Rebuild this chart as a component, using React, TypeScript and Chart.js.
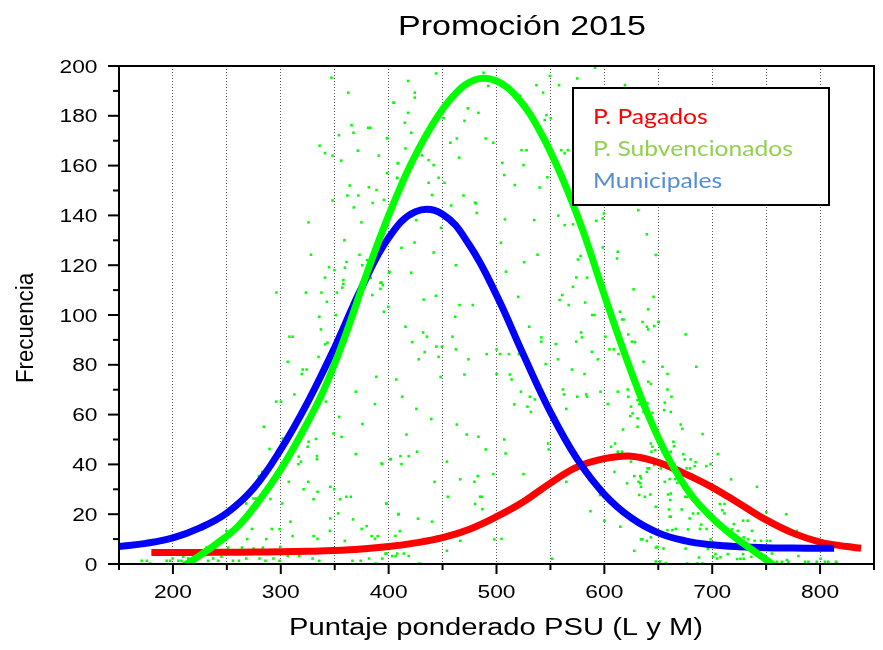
import React, { useEffect, useRef } from "react";
import { Chart, registerables } from "chart.js";

Chart.register(...registerables);

const titleText = "Promoción 2015";
const xAxisTitle = "Puntaje ponderado PSU (L y M)";
const yAxisTitle = "Frecuencia";
const legendNames = ["P. Pagados", "P. Subvencionados", "Municipales"];

const xTickLabels = [200, 300, 400, 500, 600, 700, 800];
const yTickLabels = [0, 20, 40, 60, 80, 100, 120, 140, 160, 180, 200];

// P. Subvencionados (green curve)
const subvX = [200, 220, 240, 260, 280, 300, 320, 340, 360, 380, 400, 420, 440, 460, 480, 500, 520, 540, 560, 580, 600, 620, 640, 660, 680, 700, 720, 740, 760, 770];
const subvY = [-3.5, 2, 8, 15, 25.5, 38, 53, 70, 92, 117, 140, 160, 176, 188, 194.5, 194, 187, 174, 156, 134, 108, 83, 60.5, 42, 28, 18.5, 11, 4.8, -1.5, -5];

// Municipales (blue curve)
const munX = [150, 175, 200, 225, 250, 275, 300, 325, 350, 375, 400, 425, 450, 475, 500, 525, 550, 575, 600, 625, 650, 675, 700, 725, 750, 775, 800, 813];
const munY = [7, 8.3, 10.5, 14.5, 20.5, 30.5, 46, 65, 87, 111, 131, 141.5, 140.5, 128, 108, 84, 61, 42, 28, 18.5, 12.5, 9.3, 7.7, 6.9, 6.5, 6.4, 6.3, 6.3];

// P. Pagados (red curve)
const pagX = [180, 200, 225, 250, 275, 300, 325, 350, 375, 400, 425, 450, 475, 500, 525, 550, 575, 600, 625, 650, 675, 700, 725, 750, 775, 800, 825, 838];
const pagY = [4.6, 4.6, 4.65, 4.7, 4.8, 4.9, 5.1, 5.4, 6, 7, 8.5, 10.6, 14, 19, 25, 32.5, 39, 42.3, 43.3, 40.8, 36.2, 30.8, 24.3, 17.7, 12.4, 8.8, 7, 6.3];

// raw data points (green dots)
const dots: [number, number][] = [
  [347, 195.3], [362.5, 189.3], [404.6, 185.3], [365.6, 176.2], [381, 175.2], [383, 175.2], [367.4, 173.2], [398.5, 171], [353.9, 172.2], [336, 168],
  [341, 165], [348, 164], [371.4, 166], [356, 162], [390.8, 164], [408.4, 161], [398.5, 157], [407.8, 155], [364, 152], [361.7, 148],
  [371.9, 148], [381.6, 151.3], [388.8, 150.2], [395.6, 146.2], [348, 146], [367.7, 143.2], [385.2, 145], [374.8, 137.2], [325.7, 137.2], [359, 130],
  [328, 124.2], [373, 124.2], [361, 121.3], [375.5, 120], [380, 122], [344.7, 119.2], [359.4, 119], [349.7, 118], [400.8, 117.3], [341, 115],
  [358, 114], [358, 112.5], [383.4, 115], [357, 111], [392.4, 113], [394.5, 112], [392.4, 110.5], [296, 109], [323.3, 109], [337.7, 109],
  [352, 109], [384.8, 108], [488, 197.3], [549.5, 196], [522, 188],
  [443.9, 197], [418, 194], [404.8, 185.2], [424.2, 189.3], [424.2, 187.3], [418, 181.2], [415, 177.2], [421, 173.2], [398.6, 171], [415.6, 166.9],
  [431, 164.1], [408.8, 160.9], [407.9, 155.1], [437, 162.2], [441.7, 160.2], [437, 153.1], [446.3, 155.1], [451.8, 153.1], [440.2, 148.2], [469.4, 148],
  [458, 144], [481, 144.8], [481.7, 141], [425.4, 138.1], [448.5, 135], [424, 129.1], [411.9, 127], [441.7, 125.1], [462.3, 120], [421, 117],
  [400.2, 117], [393.4, 113], [432.5, 106.2], [443.8, 107.7], [464.8, 190], [451, 179], [473.4, 183], [483.2, 181.2], [470.3, 178], [457.1, 169.2],
  [463.2, 170.9], [490, 170.9], [497, 169.2], [465.4, 163.2], [492.4, 192], [505.4, 161.1], [525, 160.2], [523.2, 166.2], [527.8, 166.2], [517, 152.2],
  [540, 151.2], [547.2, 155.3], [507.2, 156.2], [480.1, 145.1], [507.8, 138.4], [534.9, 138.1], [504.1, 129], [538, 124.2], [525.6, 121.2], [508.7, 117.4],
  [520.1, 107.3], [537, 192.3], [543.2, 189.3], [558, 192.3], [574.9, 195], [546.2, 180.3], [544.7, 178.3], [550.3, 179], [560.1, 166.2], [566.2, 166.2],
  [563.2, 164.9], [591.4, 199.4], [619.1, 192.3], [557.3, 139.9], [563.2, 136.1], [570.9, 136.4], [599.5, 140.8], [598.5, 138.8], [592.4, 137.8], [631.4, 142.1],
  [639.4, 132.4], [647.7, 124.1], [612.4, 125.4], [611.7, 122.7], [575.5, 122.3], [578, 123.7], [598.5, 127.1], [584, 115], [574, 115.1], [627.1, 110.3],
  [645.6, 107.3], [561, 108], [570.9, 111.3],
  [342.7, 105.3], [335.7, 99.3], [337.2, 94.2], [351, 100], [308, 91.3], [311, 91.3], [343.3, 88.9], [341.2, 88.2], [306.4, 81.2], [335, 83.2],
  [320.3, 78.1], [324, 78.1], [319.4, 76.3], [312.6, 68.1], [295.7, 65.2], [300.3, 65.2], [341.8, 65.2], [284.3, 55.1], [354.1, 59.1], [348.9, 52.4],
  [356.3, 51.1], [369.5, 69.2], [388.5, 75.2], [407, 74.1], [387.3, 64.2], [375.6, 56.2], [369.5, 44.1], [394.1, 40.1], [401.8, 42.1], [289.5, 46.2],
  [301.8, 50.4], [332.6, 50.2], [325.8, 49.1], [324.9, 47.1], [316.6, 43.1], [318.7, 41.1], [316.3, 40.1], [333.5, 43.3], [333.5, 42.1], [307.4, 33],
  [325.5, 33], [321.2, 30], [334.1, 29], [345.8, 31], [349.5, 30], [330.4, 26], [355, 26], [360.9, 27], [364.9, 27], [398.1, 24.3],
  [408.8, 19.9], [301.2, 24.3], [290.4, 26.1], [279.7, 35.3], [282.8, 37], [274.8, 26.3], [277.2, 26.3], [268, 24.3], [345.8, 18.3], [353.2, 20.3],
  [367, 17.9], [375, 14.1], [379.6, 15.2], [308.9, 17], [311, 11.2], [298.8, 14], [291.7, 14.1], [286.5, 10], [273.2, 14.1], [268.9, 10],
  [261.9, 16.6], [259.4, 15.2], [257.2, 13.3], [249.5, 13.3], [264, 6.6], [251.1, 6.6], [241.9, 9.3], [231.1, 6.6], [274.8, 6.2], [283.4, 6.6],
  [299.4, 6.9], [306.4, 3.2], [317.2, 3.2], [330.4, 11.2], [334.1, 10.1], [345.5, 13.3], [359.3, 9.3], [384.2, 11.2], [387.3, 10.1], [389.8, 11.2],
  [398.1, 4.2], [406.4, 3.2], [171.1, 1.3], [175.8, 1.3], [178.8, 0.2], [194.2, 1.3], [197.3, 1.3], [199.7, 2.2], [205, 1.3], [208, 1.3],
  [214.2, 2.2], [217.3, 1.3], [221.9, 1.6], [209.6, 2.9], [232.6, 1.3], [237.3, 2.2], [241.9, 1.3], [245, 2.9], [255.7, 1.3], [261.2, 1.3],
  [268, 2.2], [280.3, 2.2], [285.8, 1.3], [293.2, 2.2], [298.8, 1.3], [329.5, 2.2], [335.7, 1.3], [366.4, 1.3], [374.1, 1.3], [381.8, 2.2],
  [387.9, 0.2], [394.1, 2.2], [395.6, 101.3], [399.6, 103.3],
  [465.7, 104], [478, 104], [558.5, 106], [566.9, 104], [582.2, 105], [461.7, 99.3], [415.6, 95.3], [431.9, 93], [435.5, 91.3], [421.7, 89.1],
  [444.2, 87.3], [449.4, 87.3], [446.3, 83.2], [433.4, 85.1], [427.9, 82.2], [459.2, 91.3], [462.3, 86.2], [474, 82.2], [490.9, 84.3], [500.1, 86.2],
  [503.2, 84.3], [511.5, 84.3], [520.7, 84.3], [530.3, 95.3], [541.6, 91], [541.6, 89.3], [554.9, 88.3], [557, 82.2], [545.6, 80.3], [569.9, 78.1],
  [581.6, 76.3], [573.9, 89.3], [578.5, 93], [579.2, 91], [588.7, 100], [590.8, 100], [588.4, 85.2], [594, 82.2], [601, 91.3], [604.7, 86.2],
  [616.4, 98.2], [617.9, 98.2], [614.5, 101.3], [622.2, 92.2], [625.6, 89.3], [628.4, 89.1], [608.7, 86.2], [613, 84.3], [635.4, 97.2], [639.4, 95.3],
  [646.2, 95.6], [649.9, 97.2], [636.3, 81.2], [640.7, 73.2], [643.1, 72.3], [653.9, 79.2], [658.5, 70.1], [662.2, 67.2], [596.4, 69.2], [612.4, 69.2],
  [621.6, 70.1], [622.2, 67.2], [603.1, 64.2], [630.8, 65.8], [632.4, 64.2], [624.7, 63.2], [626.2, 60.5], [624, 59.4], [617.3, 54], [630.8, 55.1],
  [630.8, 58.5], [640, 64.5], [644.6, 60.7], [656, 64.8], [655.4, 61.8], [643.1, 48.4], [650.2, 49.8], [643.7, 45.1], [647.1, 45.7], [653.9, 45.1],
  [657.9, 45.1], [661.6, 45.1], [606.2, 47.1], [609.9, 48.4], [612.4, 45.1], [616.4, 45.1], [624.7, 41.1], [627.7, 35.3], [633.3, 35.3], [639.4, 37],
  [641.6, 38.4], [646.2, 39.7], [621, 32.4], [631.7, 33], [633.9, 31], [637.6, 27], [642.5, 27.9], [656, 33], [661.6, 28.3], [661, 25.7],
  [660, 21.9], [661.6, 19], [658.5, 13.6], [663.1, 13.6], [666.2, 14.1], [654.8, 6.2], [647.7, 6.6], [647.7, 1], [651.7, 1], [657, 0.2],
  [635.4, 9.9], [643.1, 10.7], [627.7, 5.3], [614.8, 15], [600.1, 17.4], [587.1, 21.2], [595.8, 27.7], [600.7, 27.5], [609.3, 37], [569.3, 38],
  [564.7, 33], [547.8, 48.4], [548.4, 46], [525, 36.1], [497.1, 36.1], [507.2, 50], [508.4, 44.4], [483.2, 51.1], [490, 46], [472.4, 52],
  [463.2, 56], [454, 41.1], [442.6, 33], [482.6, 35.3], [479.5, 33], [486.3, 27], [484.7, 27], [480.1, 24.1], [486.9, 22], [454.9, 27],
  [466.3, 34], [440.2, 17], [427.2, 18.2], [409.4, 20.1], [410.3, 13.2], [406.3, 11.3], [432.5, 10], [466.3, 9.3], [454, 5.3], [498, 9.9],
  [504.7, 10.1], [551.5, 2.1], [428.5, 0.2], [397.1, 4.2], [403.3, 3.2], [407.9, 4.2], [414, 4.2], [418.6, 3.2], [393.4, 40.4], [401.7, 42.1],
  [410.9, 43.3], [418.6, 43.3], [411.9, 40.1], [426.3, 45.1], [397.7, 24.3], [416.5, 52], [425.7, 62.3], [412.5, 67.2], [439.5, 58.2], [448.2, 75.1],
  [516.4, 64.1], [528.7, 63.2], [531.8, 61.1], [522.6, 69.2], [530.9, 67.2], [535.5, 66.1], [512.4, 76.1], [514, 74.1], [500.1, 76.3], [470.3, 76.1],
  [561.6, 70.1], [562.6, 68.1], [574.9, 67.2], [583.1, 68.1], [584, 67.2], [564.7, 62.3],
  [640.6, 102.3], [650.5, 97.2], [640.6, 94.2], [675.4, 92.2], [658.5, 76.3], [661.6, 61.1], [685.2, 79.2], [637, 63.2], [636.3, 61.1], [670.8, 56],
  [672.3, 54.3], [691.1, 52.2], [644.6, 47.1], [651.1, 48.2], [664, 49.1], [664.6, 47.3], [705.2, 44.1], [698.5, 40.1], [694.5, 39.3], [673.2, 44.1],
  [674.5, 42], [680, 42], [684.6, 40.9], [683.7, 39.3], [681.5, 36], [678.5, 36], [676.3, 38.4], [679.4, 38.4], [648.6, 40.4], [652.3, 38.4],
  [640, 38.4], [633.9, 34.4], [633.3, 32.4], [632.3, 27.7], [660.6, 34.1], [665.5, 34.1], [667.7, 32.6], [676.9, 27], [674.8, 27], [659.1, 27.9],
  [660.6, 19], [671.7, 21.9], [679.1, 18.3], [677.5, 13.9], [688.6, 14.1], [689.8, 15.8], [686.8, 20.3], [682.2, 20.3], [694.8, 14.1], [698.5, 9.9],
  [696, 6], [702.1, 29.9], [707.1, 24.1], [711.4, 24.1], [709.2, 21.6], [717.5, 34], [711.4, 20.3], [720, 16], [718.4, 13.9], [723.7, 13.3],
  [728.6, 17.4], [732.9, 17.4], [736.9, 13.3], [741.5, 31], [729.2, 10.7], [733.2, 9.9], [739.3, 9.3], [745.2, 9.3], [750.7, 9.3], [753.8, 9.3],
  [750.1, 20.8], [768.6, 20], [760, 16], [778.4, 13.3], [755.3, 4.2], [703, 4], [707.7, 2.7], [714.4, 4], [723.1, 2], [728.6, 4],
  [736.3, 2.9], [739.3, 4.2], [726.1, 2.1], [729.2, 2.1], [760, 0.9], [764.6, 0.9], [769.2, 1.6], [770.7, 0.9], [779.9, 3.2], [786.1, 0.9],
  [789.2, 0.9], [796.9, 0.9], [800.5, 2.1], [804.5, 0.9], [807.6, 0.9], [814.7, 0.9], [815.6, 0.2], [647.7, 23], [649.3, 6.9], [676.9, 0.2],
  [686.2, 0.2], [690.8, 0.2], [656.9, 0.2], [633.9, 9.9], [639.4, 9.3], [675.4, 6.2], [687.7, 2.6], [700.9, 2.9], [704.6, 2.2],
];

const ARIAL = "'Liberation Sans', Arial, sans-serif";

function drawStretched(
  ctx: CanvasRenderingContext2D,
  text: string,
  x: number,
  y: number,
  font: string,
  color: string,
  align: CanvasTextAlign,
  targetWidth: number | null,
  scaleX: number,
  rotate = 0
) {
  ctx.save();
  ctx.font = font;
  ctx.fillStyle = color;
  ctx.textAlign = align;
  ctx.textBaseline = "alphabetic";
  const w = ctx.measureText(text).width;
  const sx = targetWidth ? targetWidth / w : scaleX;
  ctx.translate(x, y);
  if (rotate) ctx.rotate(rotate);
  ctx.scale(sx, 1);
  ctx.fillText(text, 0, 0);
  ctx.restore();
}

const decorPlugin = {
  id: "decor",
  afterDatasetsDraw(chart: any) {
    const { ctx, chartArea: a, scales } = chart;
    const xs = scales.x;
    const ys = scales.y;
    ctx.save();
    ctx.strokeStyle = "#000";
    ctx.lineWidth = 2;
    ctx.lineCap = "butt";
    ctx.strokeRect(a.left, a.top, a.right - a.left, a.bottom - a.top);
    const line = (x1: number, y1: number, x2: number, y2: number) => {
      ctx.beginPath();
      ctx.moveTo(x1, y1);
      ctx.lineTo(x2, y2);
      ctx.stroke();
    };
    yTickLabels.forEach((v, i) => {
      const py = ys.getPixelForValue(v);
      line(a.left - 11, py, a.left, py);
      if (i < yTickLabels.length - 1) {
        const mid = (v + yTickLabels[i + 1]) / 2;
        const pm = ys.getPixelForValue(mid);
        line(a.left - 6, pm, a.left, pm);
      }
    });
    xTickLabels.forEach((v, i) => {
      const px = xs.getPixelForValue(v);
      line(px, a.bottom, px, a.bottom + 10);
      const prev = i === 0 ? v - 50 : (v + xTickLabels[i - 1]) / 2;
      const pp = xs.getPixelForValue(prev);
      line(pp, a.bottom, pp, a.bottom + 6);
      if (i === xTickLabels.length - 1) {
        const pn = xs.getPixelForValue(v + 50);
        line(pn, a.bottom, pn, a.bottom + 6);
      }
    });

    ctx.font = `18px ${ARIAL}`;
    const tickScale = 38 / ctx.measureText("200").width;
    yTickLabels.forEach((v) => {
      const py = ys.getPixelForValue(v);
      drawStretched(ctx, String(v), 97.5, py + 6.5, `18px ${ARIAL}`, "#000", "right", null, tickScale);
    });
    xTickLabels.forEach((v) => {
      const px = xs.getPixelForValue(v);
      drawStretched(ctx, String(v), px, 597.5, `18px ${ARIAL}`, "#000", "center", null, tickScale);
    });

    drawStretched(ctx, titleText, 522, 35, `28px ${ARIAL}`, "#000", "center", 248, 1);
    drawStretched(ctx, xAxisTitle, 496, 635, `23px ${ARIAL}`, "#000", "center", 414, 1);
    drawStretched(ctx, yAxisTitle, 33, 328, `23px ${ARIAL}`, "#000", "center", 110, 1, -Math.PI / 2);

    ctx.fillStyle = "#fff";
    ctx.fillRect(573, 88, 256, 117);
    ctx.lineWidth = 2;
    ctx.strokeStyle = "#000";
    ctx.strokeRect(573, 88, 256, 117);
    const legendColors = ["#ff0000", "#92d050", "#558ed5"];
    const lf = "21px Lato, 'Open Sans', sans-serif";
    ctx.font = lf;
    const lScale = 200 / ctx.measureText(legendNames[1]).width;
    const baselines = [124, 156, 187.5];
    legendNames.forEach((n, i) => {
      drawStretched(ctx, n, 593, baselines[i], lf, legendColors[i], "left", null, lScale);
    });
    ctx.restore();
  },
};

export default function App() {
  const ref = useRef<HTMLCanvasElement | null>(null);
  useEffect(() => {
    document.body.style.margin = "0";
    const canvas = ref.current;
    if (!canvas) return;
    const toPts = (xs: number[], ys: number[]) => xs.map((x, i) => ({ x, y: ys[i] }));
    const curve = (label: string, xs: number[], ys: number[], color: string) =>
      ({
        label,
        data: toPts(xs, ys),
        showLine: true,
        borderColor: color,
        borderWidth: 7,
        pointRadius: 0,
        tension: 0.4,
        borderCapStyle: "butt",
        borderJoinStyle: "round",
        clip: 0,
      } as any);
    const chart = new Chart(canvas, {
      type: "scatter",
      data: {
        datasets: [
          curve(legendNames[1], subvX, subvY, "#00ff00"),
          curve(legendNames[2], munX, munY, "#0000ff"),
          curve(legendNames[0], pagX, pagY, "#ff0000"),
          {
            label: "datos",
            data: dots.map(([x, y]) => ({ x, y })),
            showLine: false,
            pointStyle: "rect",
            pointRadius: 1.8,
            backgroundColor: "#00ff00",
            borderWidth: 0,
            clip: 1,
          } as any,
        ],
      },
      options: {
        responsive: false,
        animation: false,
        devicePixelRatio: 1,
        layout: { padding: { left: 119, right: 9, top: 66, bottom: 86 } },
        plugins: {
          legend: { display: false },
          title: { display: false },
          tooltip: { enabled: false },
        },
        events: [],
        scales: {
          x: {
            type: "linear",
            min: 150,
            max: 850,
            ticks: { display: false, stepSize: 50 },
            grid: { display: true, drawTicks: false, color: "rgba(0,0,0,0.65)", lineWidth: 1 },
            border: { display: false, dash: [1, 2] },
          },
          y: {
            type: "linear",
            min: 0,
            max: 200,
            ticks: { display: false },
            grid: { display: false, drawTicks: false },
            border: { display: false },
          },
        },
      } as any,
      plugins: [decorPlugin],
    });
    return () => chart.destroy();
  }, []);
  return (
    <div style={{ width: 883, height: 650, background: "#fff" }}>
      <canvas ref={ref} width={883} height={650} style={{ display: "block" }} />
    </div>
  );
}
